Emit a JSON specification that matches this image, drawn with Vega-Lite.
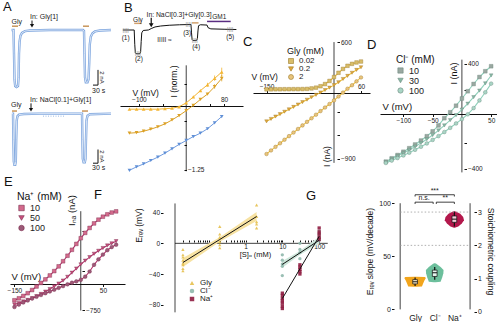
{
"$schema":"https://vega.github.io/schema/vega-lite/v6.json",
"padding":{"left":3,"top":1,"right":0,"bottom":0},
"config":{"font":"Liberation Sans","view":{"stroke":null},
 "axis":{"labelFontSize":6.5,"titleFontSize":8,"titleFontWeight":"normal","tickSize":2.5,"labelPadding":1,"grid":false,"domainColor":"#111","tickColor":"#111","labelColor":"#222","titleColor":"#111","labelBound":false,"labelOverlap":false},
 "legend":{"titleFontWeight":"normal","titleColor":"#111","labelColor":"#222","rowPadding":0,"titlePadding":1,"symbolStrokeWidth":0.6},
 "title":{"fontSize":13,"fontWeight":"normal","anchor":"start","color":"#111","offset":0,"baseline":"bottom","frame":"group"}},
"datasets":{
 "a1":[{"t":1.5,"i":0},{"t":3.5,"i":0},{"t":4,"i":-2.5},{"t":4.5,"i":-5.2},{"t":5.2,"i":-5.9},{"t":6.5,"i":-6},{"t":8,"i":-5.9},{"t":8.6,"i":-5},{"t":9,"i":-2.5},{"t":9.6,"i":-1.2},{"t":10.5,"i":-0.6},{"t":12,"i":-0.3},{"t":15,"i":-0.12},{"t":20,"i":-0.05},{"t":40,"i":0},{"t":73,"i":0},{"t":74,"i":-0.1},{"t":74.5,"i":-2.5},{"t":75,"i":-5},{"t":75.8,"i":-5.5},{"t":77.5,"i":-5.5},{"t":78.5,"i":-5.2},{"t":79.2,"i":-3.5},{"t":79.8,"i":-1.5},{"t":80.8,"i":-0.7},{"t":82.5,"i":-0.35},{"t":85,"i":-0.15},{"t":90,"i":-0.05},{"t":101,"i":0}],
 "a2":[{"t":2,"i":0},{"t":3,"i":0},{"t":3.4,"i":-3},{"t":3.8,"i":-5.6},{"t":4.4,"i":-6},{"t":5.2,"i":-6},{"t":5.8,"i":-5.6},{"t":6.2,"i":-3},{"t":6.7,"i":-0.8},{"t":7.5,"i":-0.3},{"t":9,"i":-0.12},{"t":14,"i":-0.05},{"t":30,"i":0},{"t":72,"i":0},{"t":72.4,"i":-3},{"t":72.8,"i":-5.3},{"t":73.6,"i":-5.7},{"t":74.8,"i":-5.7},{"t":75.5,"i":-5.3},{"t":76,"i":-3},{"t":76.5,"i":-0.8},{"t":77.5,"i":-0.25},{"t":80,"i":-0.08},{"t":101,"i":0}],
 "b1":[{"t":3,"i":0},{"t":15,"i":0},{"t":15.6,"i":-1.5},{"t":16.2,"i":-2.4},{"t":17,"i":-2.5},{"t":21,"i":-2.5},{"t":21.8,"i":-2.3},{"t":22.4,"i":-1.2},{"t":23,"i":-0.3},{"t":24.5,"i":-0.05},{"t":30,"i":0},{"t":33,"i":0.15},{"t":37,"i":0.32},{"t":43,"i":0.42},{"t":52,"i":0.5},{"t":63,"i":0.55},{"t":75,"i":0.58},{"t":75.6,"i":-0.3},{"t":76.2,"i":-1},{"t":77,"i":-1.1},{"t":81,"i":-1.1},{"t":81.8,"i":-0.9},{"t":82.4,"i":-0.1},{"t":83,"i":0.45},{"t":85,"i":0.55},{"t":92,"i":0.52},{"t":93,"i":0.25},{"t":96,"i":0.12},{"t":110,"i":0.08},{"t":123,"i":0.05}],
 "b2":[
  {"v":-120,"s":"(2)-(1)","i":-1.26},{"v":-105,"s":"(2)-(1)","i":-1.19},{"v":-90,"s":"(2)-(1)","i":-1.13},{"v":-75,"s":"(2)-(1)","i":-1.06},{"v":-60,"s":"(2)-(1)","i":-0.99},{"v":-45,"s":"(2)-(1)","i":-0.91},{"v":-30,"s":"(2)-(1)","i":-0.82},{"v":-15,"s":"(2)-(1)","i":-0.73},{"v":0,"s":"(2)-(1)","i":-0.65},{"v":15,"s":"(2)-(1)","i":-0.57},{"v":30,"s":"(2)-(1)","i":-0.5},{"v":45,"s":"(2)-(1)","i":-0.41},{"v":60,"s":"(2)-(1)","i":-0.29},{"v":75,"s":"(2)-(1)","i":-0.16},
  {"v":-120,"s":"(3)-(5)","i":-0.01},{"v":-105,"s":"(3)-(5)","i":-0.01},{"v":-90,"s":"(3)-(5)","i":-0.01},{"v":-75,"s":"(3)-(5)","i":-0.01},{"v":-60,"s":"(3)-(5)","i":-0.01},{"v":-45,"s":"(3)-(5)","i":0},{"v":-30,"s":"(3)-(5)","i":0.01},{"v":-15,"s":"(3)-(5)","i":0.04},{"v":0,"s":"(3)-(5)","i":0.12},{"v":15,"s":"(3)-(5)","i":0.24},{"v":30,"s":"(3)-(5)","i":0.37},{"v":45,"s":"(3)-(5)","i":0.49},{"v":60,"s":"(3)-(5)","i":0.62},{"v":75,"s":"(3)-(5)","i":0.75},
  {"v":-120,"s":"(4)-(5)","i":-0.5},{"v":-105,"s":"(4)-(5)","i":-0.49},{"v":-90,"s":"(4)-(5)","i":-0.46},{"v":-75,"s":"(4)-(5)","i":-0.42},{"v":-60,"s":"(4)-(5)","i":-0.37},{"v":-45,"s":"(4)-(5)","i":-0.31},{"v":-30,"s":"(4)-(5)","i":-0.23},{"v":-15,"s":"(4)-(5)","i":-0.14},{"v":0,"s":"(4)-(5)","i":-0.04},{"v":15,"s":"(4)-(5)","i":0.07},{"v":30,"s":"(4)-(5)","i":0.19},{"v":45,"s":"(4)-(5)","i":0.3},{"v":60,"s":"(4)-(5)","i":0.45},{"v":75,"s":"(4)-(5)","i":0.62}],
 "b2e":[{"v":45,"s":"(3)-(5)","lo":0.45,"hi":0.53},{"v":60,"s":"(3)-(5)","lo":0.57,"hi":0.68},{"v":75,"s":"(3)-(5)","lo":0.67,"hi":0.84},{"v":60,"s":"(4)-(5)","lo":0.41,"hi":0.5},{"v":75,"s":"(4)-(5)","lo":0.56,"hi":0.69}],
 "c":[
  {"v":-150,"c":"0.02","i":-8},{"v":-140,"c":"0.02","i":-8},{"v":-130,"c":"0.02","i":-7},{"v":-120,"c":"0.02","i":-7},{"v":-110,"c":"0.02","i":-6},{"v":-100,"c":"0.02","i":-6},{"v":-90,"c":"0.02","i":-5},{"v":-80,"c":"0.02","i":-5},{"v":-70,"c":"0.02","i":-4},{"v":-60,"c":"0.02","i":-2},{"v":-50,"c":"0.02","i":4},{"v":-40,"c":"0.02","i":14},{"v":-30,"c":"0.02","i":32},{"v":-20,"c":"0.02","i":60},{"v":-10,"c":"0.02","i":100},{"v":0,"c":"0.02","i":150},{"v":10,"c":"0.02","i":205},{"v":20,"c":"0.02","i":255},{"v":30,"c":"0.02","i":295},{"v":40,"c":"0.02","i":320},{"v":50,"c":"0.02","i":338},{"v":60,"c":"0.02","i":350},
  {"v":-150,"c":"0.2","i":-420},{"v":-140,"c":"0.2","i":-389},{"v":-130,"c":"0.2","i":-358},{"v":-120,"c":"0.2","i":-327},{"v":-110,"c":"0.2","i":-296},{"v":-100,"c":"0.2","i":-265},{"v":-90,"c":"0.2","i":-234},{"v":-80,"c":"0.2","i":-203},{"v":-70,"c":"0.2","i":-172},{"v":-60,"c":"0.2","i":-141},{"v":-50,"c":"0.2","i":-110},{"v":-40,"c":"0.2","i":-79},{"v":-30,"c":"0.2","i":-48},{"v":-20,"c":"0.2","i":-17},{"v":-10,"c":"0.2","i":14},{"v":0,"c":"0.2","i":46},{"v":10,"c":"0.2","i":84},{"v":20,"c":"0.2","i":125},{"v":30,"c":"0.2","i":165},{"v":40,"c":"0.2","i":205},{"v":50,"c":"0.2","i":242},{"v":60,"c":"0.2","i":276},
  {"v":-150,"c":"2","i":-840},{"v":-140,"c":"2","i":-794},{"v":-130,"c":"2","i":-748},{"v":-120,"c":"2","i":-702},{"v":-110,"c":"2","i":-656},{"v":-100,"c":"2","i":-610},{"v":-90,"c":"2","i":-564},{"v":-80,"c":"2","i":-518},{"v":-70,"c":"2","i":-472},{"v":-60,"c":"2","i":-426},{"v":-50,"c":"2","i":-380},{"v":-40,"c":"2","i":-334},{"v":-30,"c":"2","i":-288},{"v":-20,"c":"2","i":-242},{"v":-10,"c":"2","i":-196},{"v":0,"c":"2","i":-150},{"v":10,"c":"2","i":-100},{"v":20,"c":"2","i":-50},{"v":30,"c":"2","i":0},{"v":40,"c":"2","i":45},{"v":50,"c":"2","i":95},{"v":60,"c":"2","i":145}],
 "d":[
  {"v":-130,"c":"10","i":-345},{"v":-120,"c":"10","i":-320},{"v":-110,"c":"10","i":-295},{"v":-100,"c":"10","i":-270},{"v":-90,"c":"10","i":-243},{"v":-80,"c":"10","i":-215},{"v":-70,"c":"10","i":-185},{"v":-60,"c":"10","i":-152},{"v":-50,"c":"10","i":-115},{"v":-40,"c":"10","i":-70},{"v":-30,"c":"10","i":-15},{"v":-20,"c":"10","i":30},{"v":-10,"c":"10","i":80},{"v":0,"c":"10","i":135},{"v":10,"c":"10","i":190},{"v":20,"c":"10","i":245},{"v":30,"c":"10","i":298},{"v":40,"c":"10","i":342},{"v":50,"c":"10","i":380},
  {"v":-130,"c":"30","i":-350},{"v":-120,"c":"30","i":-327},{"v":-110,"c":"30","i":-303},{"v":-100,"c":"30","i":-280},{"v":-90,"c":"30","i":-256},{"v":-80,"c":"30","i":-230},{"v":-70,"c":"30","i":-203},{"v":-60,"c":"30","i":-175},{"v":-50,"c":"30","i":-143},{"v":-40,"c":"30","i":-108},{"v":-30,"c":"30","i":-70},{"v":-20,"c":"30","i":-30},{"v":-10,"c":"30","i":8},{"v":0,"c":"30","i":50},{"v":10,"c":"30","i":95},{"v":20,"c":"30","i":145},{"v":30,"c":"30","i":195},{"v":40,"c":"30","i":250},{"v":50,"c":"30","i":310},
  {"v":-130,"c":"100","i":-355},{"v":-120,"c":"100","i":-337},{"v":-110,"c":"100","i":-318},{"v":-100,"c":"100","i":-298},{"v":-90,"c":"100","i":-277},{"v":-80,"c":"100","i":-255},{"v":-70,"c":"100","i":-232},{"v":-60,"c":"100","i":-207},{"v":-50,"c":"100","i":-180},{"v":-40,"c":"100","i":-151},{"v":-30,"c":"100","i":-120},{"v":-20,"c":"100","i":-88},{"v":-10,"c":"100","i":-55},{"v":0,"c":"100","i":-22},{"v":10,"c":"100","i":15},{"v":20,"c":"100","i":62},{"v":30,"c":"100","i":120},{"v":40,"c":"100","i":182},{"v":50,"c":"100","i":248}],
 "e":[
  {"v":-150,"c":"10","i":-500},{"v":-140,"c":"10","i":-450},{"v":-130,"c":"10","i":-390},{"v":-120,"c":"10","i":-320},{"v":-110,"c":"10","i":-240},{"v":-100,"c":"10","i":-150},{"v":-90,"c":"10","i":-60},{"v":-80,"c":"10","i":30},{"v":-70,"c":"10","i":130},{"v":-60,"c":"10","i":240},{"v":-50,"c":"10","i":360},{"v":-40,"c":"10","i":490},{"v":-30,"c":"10","i":630},{"v":-20,"c":"10","i":780},{"v":-10,"c":"10","i":930},{"v":0,"c":"10","i":1075},{"v":10,"c":"10","i":1210},{"v":20,"c":"10","i":1335},{"v":30,"c":"10","i":1450},{"v":40,"c":"10","i":1545},{"v":50,"c":"10","i":1620},{"v":60,"c":"10","i":1680},{"v":70,"c":"10","i":1725},{"v":80,"c":"10","i":1755},
  {"v":-150,"c":"50","i":-605},{"v":-140,"c":"50","i":-570},{"v":-130,"c":"50","i":-530},{"v":-120,"c":"50","i":-490},{"v":-110,"c":"50","i":-445},{"v":-100,"c":"50","i":-395},{"v":-90,"c":"50","i":-340},{"v":-80,"c":"50","i":-280},{"v":-70,"c":"50","i":-215},{"v":-60,"c":"50","i":-145},{"v":-50,"c":"50","i":-75},{"v":-40,"c":"50","i":0},{"v":-30,"c":"50","i":95},{"v":-20,"c":"50","i":200},{"v":-10,"c":"50","i":305},{"v":0,"c":"50","i":410},{"v":10,"c":"50","i":505},{"v":20,"c":"50","i":595},{"v":30,"c":"50","i":680},{"v":40,"c":"50","i":755},{"v":50,"c":"50","i":825},{"v":60,"c":"50","i":890},{"v":70,"c":"50","i":945},{"v":80,"c":"50","i":1000},
  {"v":-150,"c":"100","i":-670},{"v":-140,"c":"100","i":-610},{"v":-130,"c":"100","i":-555},{"v":-120,"c":"100","i":-505},{"v":-110,"c":"100","i":-455},{"v":-100,"c":"100","i":-410},{"v":-90,"c":"100","i":-365},{"v":-80,"c":"100","i":-320},{"v":-70,"c":"100","i":-275},{"v":-60,"c":"100","i":-230},{"v":-50,"c":"100","i":-185},{"v":-40,"c":"100","i":-140},{"v":-30,"c":"100","i":-95},{"v":-20,"c":"100","i":-55},{"v":-10,"c":"100","i":-20},{"v":0,"c":"100","i":20},{"v":10,"c":"100","i":100},{"v":20,"c":"100","i":230},{"v":30,"c":"100","i":400},{"v":40,"c":"100","i":540},{"v":50,"c":"100","i":660},{"v":60,"c":"100","i":770},{"v":70,"c":"100","i":850},{"v":80,"c":"100","i":910}],
 "f":[
  {"g":"Gly","s":0.02,"e":-8},{"g":"Gly","s":0.02,"e":-15},{"g":"Gly","s":0.02,"e":-18},{"g":"Gly","s":0.02,"e":-22},{"g":"Gly","s":0.02,"e":-26},{"g":"Gly","s":0.02,"e":-28},{"g":"Gly","s":0.02,"e":-33},{"g":"Gly","s":0.02,"e":-36},
  {"g":"Gly","s":0.2,"e":-6},{"g":"Gly","s":0.2,"e":-2},{"g":"Gly","s":0.2,"e":2},{"g":"Gly","s":0.2,"e":8},{"g":"Gly","s":0.2,"e":12},{"g":"Gly","s":0.2,"e":22},
  {"g":"Gly","s":2,"e":20},{"g":"Gly","s":2,"e":25},{"g":"Gly","s":2,"e":28},{"g":"Gly","s":2,"e":35},{"g":"Gly","s":2,"e":50},
  {"g":"Cl⁻","s":10,"e":-15},{"g":"Cl⁻","s":10,"e":-22},{"g":"Cl⁻","s":10,"e":-27},{"g":"Cl⁻","s":10,"e":-30},{"g":"Cl⁻","s":10,"e":-42},
  {"g":"Cl⁻","s":30,"e":0},{"g":"Cl⁻","s":30,"e":-8},{"g":"Cl⁻","s":30,"e":-12},{"g":"Cl⁻","s":30,"e":-20},
  {"g":"Cl⁻","s":100,"e":16},{"g":"Cl⁻","s":100,"e":12},{"g":"Cl⁻","s":100,"e":8},{"g":"Cl⁻","s":100,"e":4},
  {"g":"Na⁺","s":10,"e":-65},{"g":"Na⁺","s":10,"e":-68},{"g":"Na⁺","s":10,"e":-72},{"g":"Na⁺","s":10,"e":-75},{"g":"Na⁺","s":10,"e":-78},{"g":"Na⁺","s":10,"e":-82},{"g":"Na⁺","s":10,"e":-85},
  {"g":"Na⁺","s":30,"e":-28},{"g":"Na⁺","s":30,"e":-31},{"g":"Na⁺","s":30,"e":-34},{"g":"Na⁺","s":30,"e":-37},{"g":"Na⁺","s":30,"e":-40},
  {"g":"Na⁺","s":100,"e":20},{"g":"Na⁺","s":100,"e":15},{"g":"Na⁺","s":100,"e":12},{"g":"Na⁺","s":100,"e":8},{"g":"Na⁺","s":100,"e":5}],
 "fl":[
  {"g":"Gly","s":0.02,"e":-25,"lo":-31,"hi":-19},{"g":"Gly","s":0.2,"e":5,"lo":2,"hi":8},{"g":"Gly","s":2,"e":35,"lo":29,"hi":41},
  {"g":"Cl⁻","s":10,"e":-27.5,"lo":-32,"hi":-23},{"g":"Cl⁻","s":30,"e":-12.5,"lo":-15,"hi":-10},{"g":"Cl⁻","s":100,"e":4,"lo":-0.5,"hi":8.5},
  {"g":"Na⁺","s":10,"e":-72,"lo":-72,"hi":-72},{"g":"Na⁺","s":100,"e":9,"lo":9,"hi":9}],
 "gv":[
  {"g":"Gly","v":21.3,"lo":0.95,"hi":1.05},{"g":"Gly","v":21.6,"lo":0.65,"hi":1.35},{"g":"Gly","v":24,"lo":0.6,"hi":1.4},{"g":"Gly","v":27,"lo":0.53,"hi":1.47},{"g":"Gly","v":29.5,"lo":0.45,"hi":1.55},{"g":"Gly","v":30.5,"lo":0.5,"hi":1.5},{"g":"Gly","v":30.8,"lo":0.95,"hi":1.05},
  {"g":"Cl","v":25.5,"lo":1.95,"hi":2.05},{"g":"Cl","v":26,"lo":1.7,"hi":2.3},{"g":"Cl","v":30,"lo":1.62,"hi":2.38},{"g":"Cl","v":34,"lo":1.56,"hi":2.44},{"g":"Cl","v":37,"lo":1.55,"hi":2.45},{"g":"Cl","v":40,"lo":1.7,"hi":2.3},{"g":"Cl","v":43,"lo":1.92,"hi":2.08},{"g":"Cl","v":43.5,"lo":1.98,"hi":2.02},
  {"g":"Na","v":77,"lo":2.98,"hi":3.02},{"g":"Na","v":78,"lo":2.8,"hi":3.2},{"g":"Na","v":81,"lo":2.62,"hi":3.38},{"g":"Na","v":84,"lo":2.51,"hi":3.49},{"g":"Na","v":87,"lo":2.55,"hi":3.45},{"g":"Na","v":90,"lo":2.7,"hi":3.3},{"g":"Na","v":92,"lo":2.9,"hi":3.1},{"g":"Na","v":92.5,"lo":2.98,"hi":3.02}],
 "gb":[
  {"g":"Gly","x":1,"xl":0.88,"xh":1.12,"q1":24,"q3":28,"med":26,"w1":22,"w2":30,"bf":"#fff3d6"},
  {"g":"Cl","x":2,"xl":1.88,"xh":2.12,"q1":31,"q3":37,"med":34.5,"w1":28,"w2":40,"bf":"#e6f5ee"},
  {"g":"Na","x":3,"xl":2.88,"xh":3.12,"q1":82,"q3":88,"med":85,"w1":78,"w2":92,"bf":"#f4cdd9"}]
},
"spacing":-7,
"resolve":{"scale":{"x":"independent","y":"independent","color":"independent","shape":"independent"},"legend":{"color":"independent","shape":"independent"}},
"vconcat":[
 {"hconcat":[
 {"width":100,"height":171,"title":{"text":"A","dx":-7,"dy":7},
  "layer":[
   {"layer":[
     {"data":{"name":"a1"},"mark":{"type":"line","color":"#7ba4de","strokeWidth":2.4},
      "encoding":{"x":{"field":"t","type":"quantitative","scale":{"domain":[0,100]},"axis":null},"y":{"field":"i","type":"quantitative","scale":{"domain":[-15.1,2]},"axis":null}}},
     {"data":{"name":"a1"},"mark":{"type":"line","color":"#ffffff","strokeWidth":0.7},
      "encoding":{"x":{"field":"t","type":"quantitative"},"y":{"field":"i","type":"quantitative"}}},
     {"data":{"values":[{"t":2,"t2":8,"i":0.4},{"t":73,"t2":79,"i":0.4}]},"mark":{"type":"rule","color":"#c8955a","strokeWidth":1.5},
      "encoding":{"x":{"field":"t","type":"quantitative"},"x2":{"field":"t2"},"y":{"field":"i","type":"quantitative"}}},
     {"data":{"values":[{"t":88,"t2":88,"i":-4.2,"i2":-5.8},{"t":83,"t2":88,"i":-5.8,"i2":-5.8},{"t":22,"t2":22,"i":1.0,"i2":0.45}]},"mark":{"type":"rule","color":"#111","strokeWidth":1},
      "encoding":{"x":{"field":"t","type":"quantitative"},"x2":{"field":"t2"},"y":{"field":"i","type":"quantitative"},"y2":{"field":"i2"}}},
     {"data":{"values":[{"t":22,"i":0.45}]},"mark":{"type":"point","shape":"triangle-down","filled":true,"color":"#111","size":18,"opacity":1},
      "encoding":{"x":{"field":"t","type":"quantitative"},"y":{"field":"i","type":"quantitative"}}},
     {"data":{"values":[{"t":20,"i":1.35,"txt":"In: Gly[1]"},{"t":1.5,"i":0.8,"txt":"Gly"},{"t":82,"i":-6.4,"txt":"30 s"}]},"mark":{"type":"text","align":"left","fontSize":7,"color":"#222"},
      "encoding":{"x":{"field":"t","type":"quantitative"},"y":{"field":"i","type":"quantitative"},"text":{"field":"txt"}}},
     {"data":{"values":[{"t":91.5,"i":-5,"txt":"2 nA"}]},"mark":{"type":"text","angle":90,"fontSize":6,"color":"#222"},
      "encoding":{"x":{"field":"t","type":"quantitative"},"y":{"field":"i","type":"quantitative"},"text":{"field":"txt"}}}
   ]},
   {"layer":[
     {"data":{"name":"a2"},"mark":{"type":"line","color":"#7ba4de","strokeWidth":2.4},
      "encoding":{"x":{"field":"t","type":"quantitative","scale":{"domain":[0,100]},"axis":null},"y":{"field":"i","type":"quantitative","scale":{"domain":[-6.1,11]},"axis":null}}},
     {"data":{"name":"a2"},"mark":{"type":"line","color":"#ffffff","strokeWidth":0.7},
      "encoding":{"x":{"field":"t","type":"quantitative"},"y":{"field":"i","type":"quantitative"}}},
     {"data":{"values":[{"t":33,"i":-0.3},{"t":55,"i":-0.3}]},"mark":{"type":"line","color":"#9dbbe6","strokeDash":[1,1.5],"strokeWidth":1},
      "encoding":{"x":{"field":"t","type":"quantitative"},"y":{"field":"i","type":"quantitative"}}},
     {"data":{"values":[{"t":2,"t2":7,"i":0.3},{"t":72,"t2":78,"i":0.3}]},"mark":{"type":"rule","color":"#c8955a","strokeWidth":1.5},
      "encoding":{"x":{"field":"t","type":"quantitative"},"x2":{"field":"t2"},"y":{"field":"i","type":"quantitative"}}},
     {"data":{"values":[{"t":88,"t2":88,"i":-4.2,"i2":-5.8},{"t":83,"t2":88,"i":-5.8,"i2":-5.8},{"t":21,"t2":21,"i":1.2,"i2":0.45}]},"mark":{"type":"rule","color":"#111","strokeWidth":1},
      "encoding":{"x":{"field":"t","type":"quantitative"},"x2":{"field":"t2"},"y":{"field":"i","type":"quantitative"},"y2":{"field":"i2"}}},
     {"data":{"values":[{"t":21,"i":0.45}]},"mark":{"type":"point","shape":"triangle-down","filled":true,"color":"#111","size":18,"opacity":1},
      "encoding":{"x":{"field":"t","type":"quantitative"},"y":{"field":"i","type":"quantitative"}}},
     {"data":{"values":[{"t":20,"i":1.6,"txt":"In: NaCl[0.1]+Gly[1]"},{"t":1,"i":1.0,"txt":"Gly"},{"t":82,"i":-6.4,"txt":"30 s"}]},"mark":{"type":"text","align":"left","fontSize":7,"color":"#222"},
      "encoding":{"x":{"field":"t","type":"quantitative"},"y":{"field":"i","type":"quantitative"},"text":{"field":"txt"}}},
     {"data":{"values":[{"t":91.5,"i":-5,"txt":"2 nA"}]},"mark":{"type":"text","angle":90,"fontSize":6,"color":"#222"},
      "encoding":{"x":{"field":"t","type":"quantitative"},"y":{"field":"i","type":"quantitative"},"text":{"field":"txt"}}}
   ]}
  ],
  "resolve":{"scale":{"y":"independent"}}},
 {"width":123,"height":171,"title":{"text":"B","dx":4,"dy":8},
  "layer":[
   {"layer":[
     {"data":{"name":"b1"},"mark":{"type":"line","color":"#111","strokeWidth":1},
      "encoding":{"x":{"field":"t","type":"quantitative","scale":{"domain":[0,123]},"axis":null},"y":{"field":"i","type":"quantitative","scale":{"domain":[-15.4,1.7]},"axis":null}}},
     {"data":{"values":[{"t":15,"t2":23,"i":0.7,"col":"#d2a06c"},{"t":76,"t2":83,"i":0.75,"col":"#d2a06c"},{"t":92,"t2":117,"i":0.9,"col":"#5a2d82"}]},"mark":{"type":"rule","strokeWidth":1.5},
      "encoding":{"x":{"field":"t","type":"quantitative"},"x2":{"field":"t2"},"y":{"field":"i","type":"quantitative"},"color":{"field":"col","type":"nominal","scale":null}}},
     {"data":{"values":[{"t":33,"t2":33,"i":1.3,"i2":0.55}]},"mark":{"type":"rule","color":"#111","strokeWidth":1.2},
      "encoding":{"x":{"field":"t","type":"quantitative"},"x2":{"field":"t2"},"y":{"field":"i","type":"quantitative"},"y2":{"field":"i2"}}},
     {"data":{"values":[{"t":33,"i":0.5}]},"mark":{"type":"point","shape":"triangle-down","filled":true,"color":"#111","size":22,"opacity":1},
      "encoding":{"x":{"field":"t","type":"quantitative"},"y":{"field":"i","type":"quantitative"}}},
     {"data":{"values":[{"t":6,"i":0},{"t":19,"i":-2.42},{"t":72.5,"i":0.58},{"t":79,"i":-1.05},{"t":116.5,"i":0.08}]},"mark":{"type":"text","text":"||||","fontSize":6,"color":"#8a8a8a"},
      "encoding":{"x":{"field":"t","type":"quantitative"},"y":{"field":"i","type":"quantitative"}}},
     {"data":{"values":[{"t":6,"i":-0.85,"txt":"(1)"},{"t":20,"i":-3.05,"txt":"(2)"},{"t":71,"i":-0.35,"txt":"(3)"},{"t":80.5,"i":-1.75,"txt":"(4)"},{"t":116.5,"i":-0.7,"txt":"(5)"},{"t":19,"i":1.1,"txt":"Gly"},{"t":105,"i":1.35,"txt":"GM1"},{"t":47,"i":-1.1,"txt":"IIIII ≈"}]},"mark":{"type":"text","fontSize":6.5,"color":"#222"},
      "encoding":{"x":{"field":"t","type":"quantitative"},"y":{"field":"i","type":"quantitative"},"text":{"field":"txt"}}},
     {"data":{"values":[{"t":28,"i":1.6,"txt":"In: NaCl[0.3]+Gly[0.3]"}]},"mark":{"type":"text","align":"left","fontSize":6.8,"color":"#222"},
      "encoding":{"x":{"field":"t","type":"quantitative"},"y":{"field":"i","type":"quantitative"},"text":{"field":"txt"}}}
   ]},
   {"layer":[
     {"data":{"values":[{"a":-1.28,"b":0.888}]},"mark":{"type":"rule","color":"#111","strokeWidth":0.8},
      "encoding":{
       "x":{"datum":0,"type":"quantitative","scale":{"domain":[-128,118]},"axis":{"orient":"top","offset":-95,"values":[-100,-50,50,80],"labelExpr":"datum.value==-100||datum.value==80?datum.label:''","title":"V (mV)","titleX":12,"titleY":-11,"titleAlign":"left","titleBaseline":"alphabetic","titleFontSize":8.5}},
       "y":{"field":"a","type":"quantitative","scale":{"domain":[-1.497,1.874]},"axis":{"orient":"right","offset":-59,"domain":false,"format":".2~f","values":[0.75,0.5,0.25,-0.25,-0.5,-0.75,-1,-1.25],"labelExpr":"datum.value==0.75||datum.value==-1.25?datum.label:''","title":"I (norm.)","titleAngle":-90,"titleX":-6,"titleY":70,"titleAlign":"center","titleBaseline":"bottom","titleFontSize":8.5}},
       "y2":{"field":"b"}}},
     {"data":{"name":"b2e"},"mark":{"type":"rule","strokeWidth":0.8},
      "encoding":{"x":{"field":"v","type":"quantitative"},"y":{"field":"lo","type":"quantitative"},"y2":{"field":"hi"},"stroke":{"field":"s","type":"nominal","scale":{"domain":["(2)-(1)","(3)-(5)","(4)-(5)"],"range":["#6f9be0","#f3b533","#dca126"]},"legend":null}}},
     {"data":{"name":"b2"},"mark":{"type":"line","strokeWidth":1},
      "encoding":{"x":{"field":"v","type":"quantitative"},"y":{"field":"i","type":"quantitative"},"stroke":{"field":"s","type":"nominal","legend":null}}},
     {"data":{"name":"b2"},"mark":{"type":"point","filled":true,"size":14,"opacity":1},
      "encoding":{"x":{"field":"v","type":"quantitative"},"y":{"field":"i","type":"quantitative"},
       "color":{"field":"s","type":"nominal","scale":{"domain":["(2)-(1)","(3)-(5)","(4)-(5)"],"range":["#5f8fd6","#f3b533","#dca126"]},"legend":{"orient":"none","legendX":88,"legendY":114,"title":"I-V","titleFontSize":8,"labelFontSize":8,"symbolSize":25,"rowPadding":2}},
       "shape":{"field":"s","type":"nominal","scale":{"domain":["(2)-(1)","(3)-(5)","(4)-(5)"],"range":["triangle-down","triangle-up","triangle-down"]},"legend":{"orient":"none","legendX":88,"legendY":114,"title":"I-V","titleFontSize":8,"labelFontSize":8,"symbolSize":25,"rowPadding":2}}}}
   ]}
  ],
  "resolve":{"scale":{"x":"independent","y":"independent","color":"independent","shape":"independent","stroke":"independent"},"legend":{"color":"independent","shape":"independent","stroke":"independent"}}},
 {"width":117,"height":171,"title":{"text":"C","dx":-10,"dy":42},
  "layer":[
   {"data":{"values":[{"a":-954,"b":600}]},"mark":{"type":"rule","color":"#111","strokeWidth":0.8},
    "encoding":{
     "x":{"datum":0,"type":"quantitative","scale":{"domain":[-165,65]},"axis":{"orient":"top","offset":-82,"values":[-150,-100,-50,60],"labelExpr":"datum.value==-150||datum.value==60?datum.label:''","title":"V (mV)","titleX":-2,"titleY":-14,"titleAlign":"left","titleBaseline":"alphabetic","titleFontSize":8.5}},
     "y":{"field":"a","type":"quantitative","scale":{"domain":[-1022.5,943]},"axis":{"orient":"right","offset":-33,"domain":false,"values":[600,300,-300,-600,-900],"labelExpr":"datum.value==600||datum.value==-900?datum.label:''","title":"I (nA)","titleAngle":-90,"titleX":-6,"titleY":145,"titleAlign":"center","titleBaseline":"bottom","titleFontSize":8.5}},
     "y2":{"field":"b"}}},
   {"data":{"name":"c"},"mark":{"type":"line","color":"#f2c23c","strokeWidth":1.1},
    "encoding":{"x":{"field":"v","type":"quantitative"},"y":{"field":"i","type":"quantitative"},"detail":{"field":"c"}}},
   {"data":{"name":"c"},"mark":{"type":"point","filled":true,"size":13,"stroke":"#9c7a2a","strokeWidth":0.4,"opacity":1},
    "encoding":{"x":{"field":"v","type":"quantitative"},"y":{"field":"i","type":"quantitative"},
     "color":{"field":"c","type":"nominal","scale":{"domain":["0.02","0.2","2"],"range":["#d8bd6a","#e3a83c","#e9c47c"]},"legend":{"orient":"none","legendX":34,"legendY":36,"title":"Gly (mM)","titleFontSize":9,"labelFontSize":8,"symbolSize":25}},
     "shape":{"field":"c","type":"nominal","scale":{"domain":["0.02","0.2","2"],"range":["square","triangle-down","circle"]},"legend":{"orient":"none","legendX":34,"legendY":36,"title":"Gly (mM)","titleFontSize":9,"labelFontSize":8,"symbolSize":25}}}}
  ]},
 {"width":117,"height":171,"title":{"text":"D","dx":-13,"dy":45},
  "layer":[
   {"data":{"values":[{"a":-427,"b":430}]},"mark":{"type":"rule","color":"#111","strokeWidth":0.8},
    "encoding":{
     "x":{"datum":0,"type":"quantitative","scale":{"domain":[-131.25,51.6]},"axis":{"orient":"bottom","offset":-68,"values":[-100,-50,50],"title":"V (mV)","titleX":2,"titleY":-5,"titleAlign":"left","titleBaseline":"alphabetic","titleFontSize":9.5}},
     "y":{"field":"a","type":"quantitative","scale":{"domain":[-469,710.3]},"axis":{"orient":"right","offset":-33,"domain":false,"values":[400,200,-200,-400],"labelExpr":"datum.value==400||datum.value==-400?datum.label:''","title":"I (nA)","titleAngle":-90,"titleX":-6,"titleY":62,"titleAlign":"center","titleBaseline":"bottom","titleFontSize":9}},
     "y2":{"field":"b"}}},
   {"data":{"name":"d"},"mark":{"type":"line","color":"#8fd1bb","strokeWidth":1.1},
    "encoding":{"x":{"field":"v","type":"quantitative"},"y":{"field":"i","type":"quantitative"},"detail":{"field":"c"}}},
   {"data":{"name":"d"},"mark":{"type":"point","filled":true,"size":14,"stroke":"#6f8a80","strokeWidth":0.4,"opacity":1},
    "encoding":{"x":{"field":"v","type":"quantitative"},"y":{"field":"i","type":"quantitative"},
     "color":{"field":"c","type":"nominal","scale":{"domain":["10","30","100"],"range":["#9aa8a1","#86b8a4","#a9d5c5"]},"legend":{"orient":"none","legendX":16,"legendY":44,"title":"Cl⁻ (mM)","titleFontSize":10,"labelFontSize":9,"symbolSize":28}},
     "shape":{"field":"c","type":"nominal","scale":{"domain":["10","30","100"],"range":["square","triangle-down","circle"]},"legend":{"orient":"none","legendX":16,"legendY":44,"title":"Cl⁻ (mM)","titleFontSize":10,"labelFontSize":9,"symbolSize":28}}}}
  ]}
 ],"spacing":10,"bounds":"flush","resolve":{"scale":{"x":"independent","y":"independent","color":"independent","shape":"independent"},"legend":{"color":"independent","shape":"independent"}}},
 {"hconcat":[
 {"width":115,"height":138,"title":{"text":"E","dx":-6,"dy":11},
  "layer":[
   {"data":{"values":[{"a":-760,"b":1760}]},"mark":{"type":"rule","color":"#111","strokeWidth":0.8},
    "encoding":{
     "x":{"datum":0,"type":"quantitative","scale":{"domain":[-153.2,91.5]},"axis":{"orient":"bottom","offset":-36,"values":[-150,-100,-50,50],"labelExpr":"datum.value==-150||datum.value==50?datum.label:''","title":"V (mV)","titleX":1,"titleY":-5,"titleAlign":"left","titleBaseline":"alphabetic","titleFontSize":9.5}},
     "y":{"field":"a","type":"quantitative","scale":{"domain":[-777.5,2203]},"axis":{"orient":"right","offset":-43,"domain":false,"format":"d","values":[1750,1250,750,250,-250,-750],"labelExpr":"datum.value==1750||datum.value==-750?datum.label:''","title":"Iₙₐ (nA)","titleAngle":-90,"titleX":-6,"titleY":28,"titleAlign":"center","titleBaseline":"bottom","titleFontSize":9.5}},
     "y2":{"field":"b"}}},
   {"data":{"name":"e"},"mark":{"type":"line","color":"#b5306a","strokeWidth":1.1},
    "encoding":{"x":{"field":"v","type":"quantitative"},"y":{"field":"i","type":"quantitative"},"detail":{"field":"c"}}},
   {"data":{"name":"e"},"mark":{"type":"point","filled":true,"size":14,"stroke":"#7a2a4c","strokeWidth":0.4,"opacity":1},
    "encoding":{"x":{"field":"v","type":"quantitative"},"y":{"field":"i","type":"quantitative"},
     "color":{"field":"c","type":"nominal","scale":{"domain":["10","50","100"],"range":["#d36a8c","#c8507e","#9c5a78"]},"legend":{"orient":"none","legendX":7,"legendY":10,"title":"Na⁺ (mM)","titleFontSize":10.5,"labelFontSize":9,"symbolSize":30}},
     "shape":{"field":"c","type":"nominal","scale":{"domain":["10","50","100"],"range":["square","triangle-down","circle"]},"legend":{"orient":"none","legendX":7,"legendY":10,"title":"Na⁺ (mM)","titleFontSize":10.5,"labelFontSize":9,"symbolSize":30}}}}
  ]},
 {"width":221,"height":138,"title":{"text":"F","dx":-41,"dy":24},
  "layer":[
   {"data":{"values":[{"a":-90,"b":52}]},"mark":{"type":"rule","color":"#111","strokeWidth":0.8},
    "encoding":{
     "x":{"datum":0.0122,"type":"quantitative","scale":{"type":"log","domain":[0.0031,171]},"axis":{"orient":"bottom","offset":-80,"domain":false,"values":[0.02,0.03,0.04,0.05,0.06,0.07,0.08,0.09,0.1,0.2,0.3,0.4,0.5,0.6,0.7,0.8,0.9,1,2,3,4,5,6,7,8,9,10,20,30,40,50,60,70,80,90,100],"labelExpr":"datum.value==1||datum.value==10||datum.value==100?datum.label:''","tickSize":2,"title":"[S]ₒ (mM)","titleX":120,"titleY":10,"titleAlign":"center","titleBaseline":"top","titleFontSize":7.5}},
     "y":{"field":"a","type":"quantitative","scale":{"domain":[-100,72.5]},"axis":{"orient":"left","offset":-28,"domain":false,"values":[40,20,0,-20,-40,-60,-80],"title":"Eᵣₑᵥ (mV)","titleAngle":-90,"titleX":-20,"titleY":43,"titleAlign":"center","titleBaseline":"bottom","titleFontSize":8.5}},
     "y2":{"field":"b"}}},
   {"data":{"values":[{"x1":0.0122,"x2":171}]},"mark":{"type":"rule","color":"#111","strokeWidth":0.8},
    "encoding":{"x":{"field":"x1","type":"quantitative"},"x2":{"field":"x2"},"y":{"datum":0,"type":"quantitative"}}},
   {"data":{"name":"fl"},"mark":{"type":"area","opacity":1},
    "encoding":{"x":{"field":"s","type":"quantitative"},"y":{"field":"lo","type":"quantitative"},"y2":{"field":"hi"},"fill":{"field":"g","type":"nominal","scale":{"domain":["Gly","Cl⁻","Na⁺"],"range":["#f7e2a2","#cde6da","#d9a6b6"]},"legend":null}}},
   {"data":{"name":"f"},"mark":{"type":"point","filled":true,"size":11,"opacity":0.9},
    "encoding":{"x":{"field":"s","type":"quantitative"},"y":{"field":"e","type":"quantitative"},
     "color":{"field":"g","type":"nominal","scale":{"domain":["Gly","Cl⁻","Na⁺"],"range":["#e6c04e","#8fb8ac","#8e1c40"]},"legend":{"orient":"none","legendX":53,"legendY":97,"title":null,"labelFontSize":8,"symbolSize":20}},
     "shape":{"field":"g","type":"nominal","scale":{"domain":["Gly","Cl⁻","Na⁺"],"range":["triangle-up","circle","square"]},"legend":{"orient":"none","legendX":53,"legendY":97,"title":null,"labelFontSize":8,"symbolSize":20}}}},
   {"data":{"name":"fl"},"mark":{"type":"line","color":"#111","strokeWidth":1},
    "encoding":{"x":{"field":"s","type":"quantitative"},"y":{"field":"e","type":"quantitative"},"detail":{"field":"g"}}}
  ]},
 {"width":108,"height":138,"title":{"text":"G","dx":-60,"dy":25},
  "layer":[
   {"layer":[
     {"data":{"values":[{"x":0.24,"a":0,"b":100},{"x":3.8,"a":0,"b":100}]},"mark":{"type":"rule","color":"#111","strokeWidth":0.8},
      "encoding":{
       "x":{"field":"x","type":"quantitative","scale":{"domain":[-1.004,3.8]},"axis":{"orient":"bottom","offset":-8,"values":[1,2,3],"labelExpr":"datum.value==1?'Gly':datum.value==2?'Cl⁻':'Na⁺'","domain":false,"ticks":false,"title":null,"labelFontSize":8.5,"labelPadding":1}},
       "y":{"field":"a","type":"quantitative","scale":{"domain":[-7,113.2]},"axis":{"orient":"left","offset":-28,"domain":false,"values":[0,25,50,75,100],"title":"Eᵣₑᵥ slope (mV/decade)","titleFontSize":8.5,"labelFontSize":7}},
       "y2":{"field":"b"}}},
     {"data":{"name":"gv"},"mark":{"type":"area","orient":"horizontal","opacity":1},
      "encoding":{"y":{"field":"v","type":"quantitative"},"x":{"field":"lo","type":"quantitative"},"x2":{"field":"hi"},"color":{"field":"g","type":"nominal","scale":{"domain":["Gly","Cl","Na"],"range":["#f2a51c","#6cbf9c","#b3184c"]},"legend":null}}},
     {"data":{"name":"gb"},"mark":{"type":"rule","color":"#111","strokeWidth":1.2},
      "encoding":{"x":{"field":"x","type":"quantitative"},"y":{"field":"w1","type":"quantitative"},"y2":{"field":"w2"}}},
     {"data":{"name":"gb"},"mark":{"type":"rect","stroke":"#111","strokeWidth":0.7},
      "encoding":{"x":{"field":"xl","type":"quantitative"},"x2":{"field":"xh"},"y":{"field":"q1","type":"quantitative"},"y2":{"field":"q3"},"fill":{"field":"bf","type":"nominal","scale":null}}},
     {"data":{"name":"gb"},"mark":{"type":"rule","color":"#111","strokeWidth":1},
      "encoding":{"x":{"field":"xl","type":"quantitative"},"x2":{"field":"xh"},"y":{"field":"med","type":"quantitative"}}},
     {"data":{"values":[{"x":1,"x2":1.92,"y":101,"y2":101},{"x":1,"x2":1,"y":99.3,"y2":101},{"x":1.92,"x2":1.92,"y":99.3,"y2":101},{"x":2.08,"x2":3,"y":101,"y2":101},{"x":2.08,"x2":2.08,"y":99.3,"y2":101},{"x":3,"x2":3,"y":99.3,"y2":101},{"x":1,"x2":3,"y":108,"y2":108},{"x":1,"x2":1,"y":106.3,"y2":108},{"x":3,"x2":3,"y":106.3,"y2":108}]},"mark":{"type":"rule","color":"#111","strokeWidth":0.8},
      "encoding":{"x":{"field":"x","type":"quantitative"},"x2":{"field":"x2"},"y":{"field":"y","type":"quantitative"},"y2":{"field":"y2"}}},
     {"data":{"values":[{"x":1.46,"y":101.8,"txt":"n.s."},{"x":2.54,"y":101.8,"txt":"**"},{"x":2,"y":108.8,"txt":"***"}]},"mark":{"type":"text","fontSize":7,"baseline":"bottom","color":"#222"},
      "encoding":{"x":{"field":"x","type":"quantitative"},"y":{"field":"y","type":"quantitative"},"text":{"field":"txt"}}}
   ]},
   {"data":{"values":[{"n":2},{"n":3}]},"mark":{"type":"rule","color":"#9a9a9a","strokeDash":[1.5,2],"strokeWidth":0.8},
    "encoding":{"x":{"datum":0.24,"type":"quantitative"},"x2":{"datum":3.8},"y":{"field":"n","type":"quantitative","scale":{"domain":[-0.2414,3.903]},"axis":{"orient":"right","values":[0,1,2,3],"domain":false,"title":"Stoichiometric coupling","titleAngle":90,"titleFontSize":8.5,"labelFontSize":7}}}}
  ],
  "resolve":{"scale":{"y":"independent"}}}
 ],"spacing":10,"bounds":"flush","resolve":{"scale":{"x":"independent","y":"independent","color":"independent","shape":"independent"},"legend":{"color":"independent","shape":"independent"}}}
]
}
